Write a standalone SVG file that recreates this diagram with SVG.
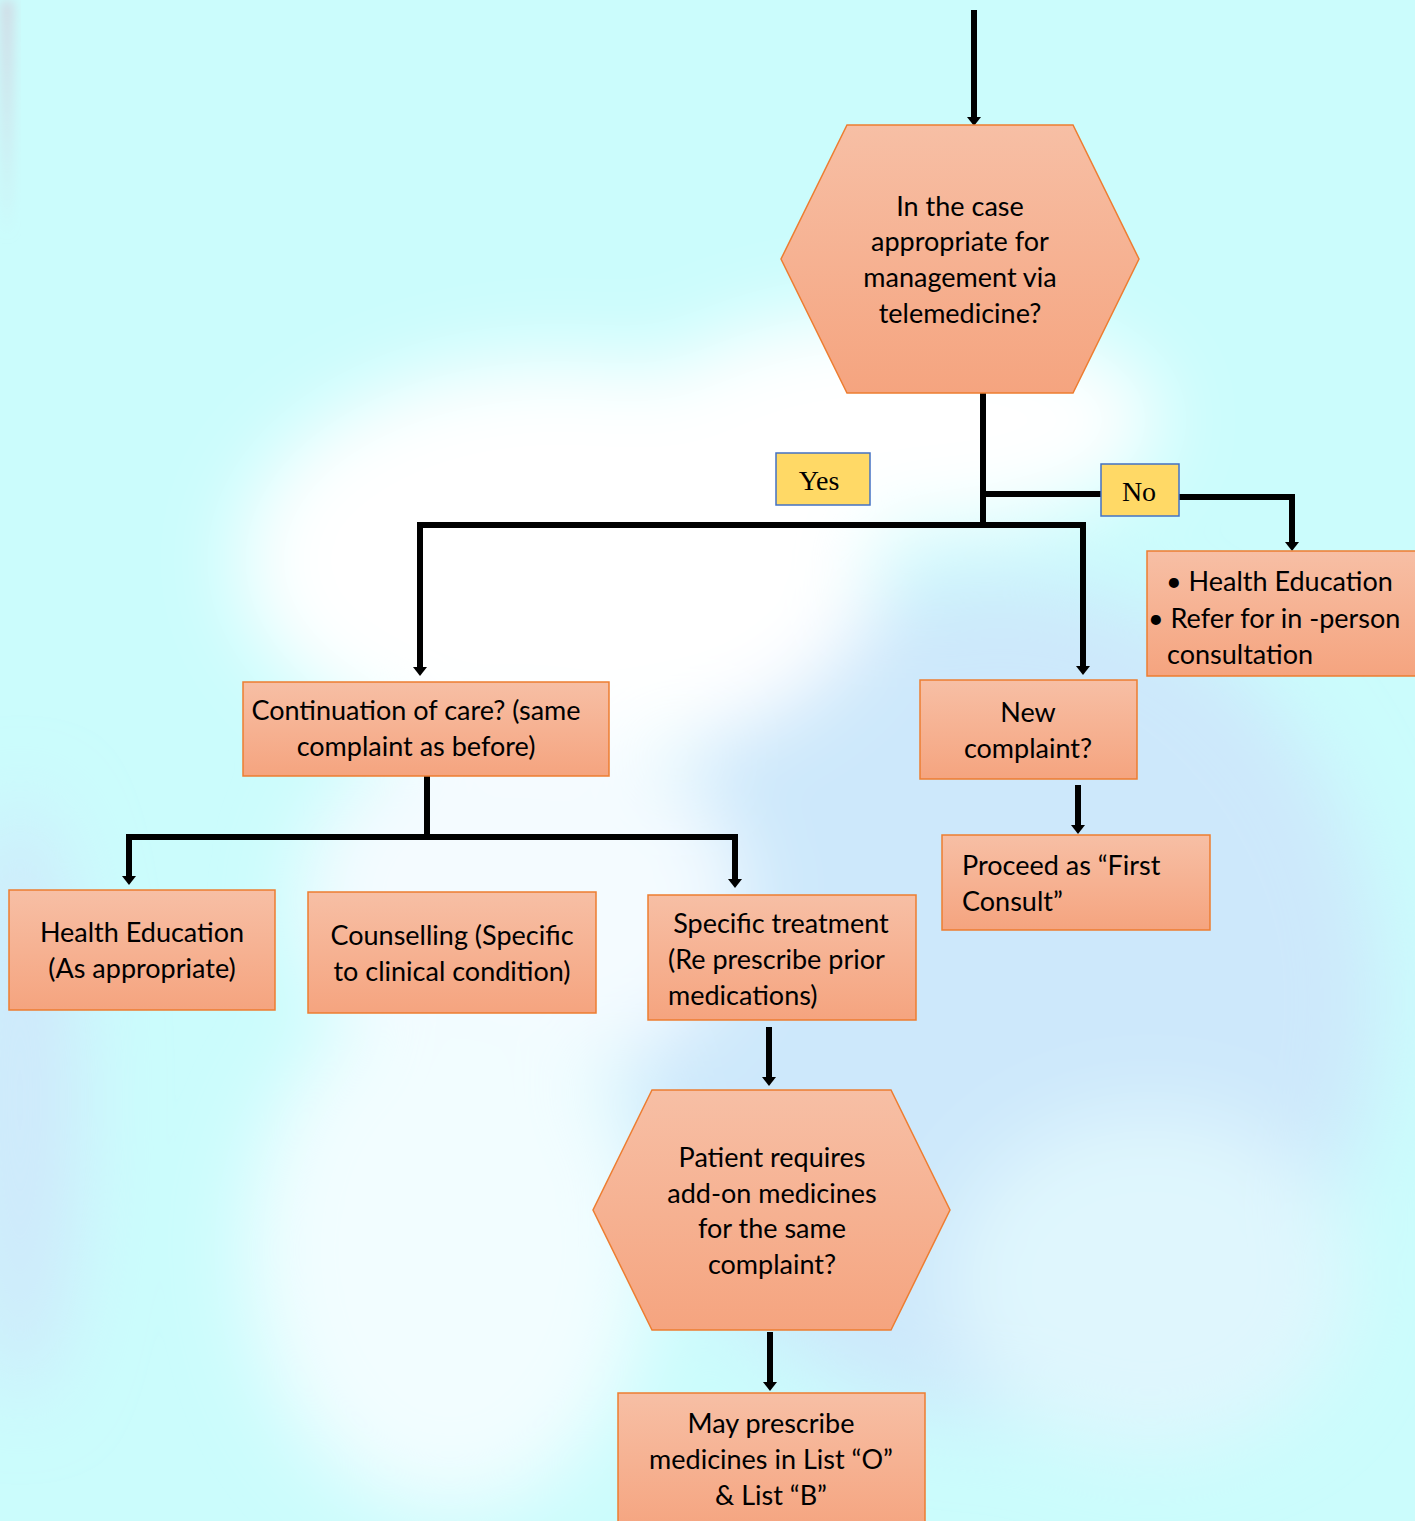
<svg xmlns="http://www.w3.org/2000/svg" width="1415" height="1521" viewBox="0 0 1415 1521">
<defs>
<linearGradient id="og" x1="0" y1="0" x2="0" y2="1">
<stop offset="0" stop-color="#f7bfa5"/>
<stop offset="1" stop-color="#f5a47f"/>
</linearGradient>
<linearGradient id="edge" x1="0" y1="0" x2="0" y2="1">
<stop offset="0" stop-color="#d2d6e2" stop-opacity="0.9"/>
<stop offset="1" stop-color="#d2d6e2" stop-opacity="0"/>
</linearGradient>
<filter id="blur" x="-50%" y="-50%" width="200%" height="200%"><feGaussianBlur stdDeviation="40"/></filter>
<filter id="blur2" x="-50%" y="-50%" width="200%" height="200%"><feGaussianBlur stdDeviation="6"/></filter>
<marker id="ah" markerUnits="userSpaceOnUse" markerWidth="10" markerHeight="16" refX="0" refY="8" orient="auto" viewBox="0 0 10 16">
<path d="M0,1 L9,8 L0,15 Z" fill="#000"/>
</marker>
<style>
.box{fill:url(#og);stroke:#ed7d31;stroke-width:1.5}
.t{font-family:Lato,"Open Sans","Liberation Sans",sans-serif;font-size:27px;fill:#000}
.c{text-anchor:middle}
.lbl{fill:#ffd966;stroke:#4472c4;stroke-width:1.5}
.lt{font-family:"Liberation Serif","DejaVu Serif",serif;font-size:28px;fill:#000;text-anchor:middle}
.ln{fill:none;stroke:#000;stroke-width:6}
.ar{fill:none;stroke:#000;stroke-width:6;marker-end:url(#ah)}
</style>
</defs>
<g id="background">
<rect width="1415" height="1521" fill="#cbfcfc"/>
<g filter="url(#blur)">
<ellipse cx="1000" cy="1000" rx="380" ry="420" fill="#cde8fb"/>
<ellipse cx="560" cy="560" rx="320" ry="200" fill="#ffffff"/>
<ellipse cx="900" cy="420" rx="260" ry="110" fill="#ffffff"/>
<ellipse cx="520" cy="900" rx="220" ry="180" fill="#f4fbff"/>
<ellipse cx="450" cy="1250" rx="200" ry="260" fill="#f2fdff"/>
<ellipse cx="1150" cy="1280" rx="200" ry="170" fill="#dff6fd"/>
<ellipse cx="20" cy="1100" rx="60" ry="300" fill="#cfe8fb"/>
</g>
<rect x="0" y="0" width="14" height="240" fill="url(#edge)" filter="url(#blur2)"/>
</g>
<g id="connectors">
<path class="ar" d="M974,10 V117"/>
<path class="ln" d="M983,393 V525"/>
<path class="ln" d="M983,494 H1101"/>
<path class="ar" d="M1179,497 H1292 V542"/>
<path class="ln" d="M417,525 H1086"/>
<path class="ar" d="M420,522 V667"/>
<path class="ar" d="M1083,522 V666"/>
<path class="ar" d="M1078,785 V825"/>
<path class="ln" d="M427,776 V839"/>
<path class="ln" d="M126,837 H738"/>
<path class="ar" d="M129,834 V876"/>
<path class="ar" d="M735,834 V879"/>
<path class="ar" d="M769,1027 V1077"/>
<path class="ar" d="M770,1332 V1382"/>
</g>
<g id="label-yes">
<rect class="lbl" x="776" y="453" width="94" height="52"/>
<text class="lt" x="819" y="490">Yes</text>
</g>
<g id="label-no">
<rect class="lbl" x="1101" y="464" width="78" height="52"/>
<text class="lt" x="1139" y="501">No</text>
</g>
<g id="node-telemedicine">
<polygon class="box" points="847,125 1073,125 1139,259 1073,393 847,393 781,259"/>
<text class="t c" x="960" y="216">In the case</text>
<text class="t c" x="960" y="251">appropriate for</text>
<text class="t c" x="960" y="287">management via</text>
<text class="t c" x="960" y="323">telemedicine?</text>
</g>
<g id="node-no-outcome">
<rect class="box" x="1147" y="551" width="270" height="125"/>
<text class="t" x="1166" y="591">• Health Education</text>
<text class="t" x="1148" y="628">• Refer for in -person</text>
<text class="t" x="1167" y="664">consultation</text>
</g>
<g id="node-continuation">
<rect class="box" x="243" y="682" width="366" height="94"/>
<text class="t c" x="416" y="720">Continuation of care? (same</text>
<text class="t c" x="416" y="756">complaint as before)</text>
</g>
<g id="node-new-complaint">
<rect class="box" x="920" y="680" width="217" height="99"/>
<text class="t c" x="1028" y="722">New</text>
<text class="t c" x="1028" y="758">complaint?</text>
</g>
<g id="node-first-consult">
<rect class="box" x="942" y="835" width="268" height="95"/>
<text class="t" x="962" y="875">Proceed as “First</text>
<text class="t" x="962" y="911">Consult”</text>
</g>
<g id="node-health-education">
<rect class="box" x="9" y="890" width="266" height="120"/>
<text class="t c" x="142" y="942">Health Education</text>
<text class="t c" x="142" y="978">(As appropriate)</text>
</g>
<g id="node-counselling">
<rect class="box" x="308" y="892" width="288" height="121"/>
<text class="t c" x="452" y="945">Counselling (Specific</text>
<text class="t c" x="452" y="981">to clinical condition)</text>
</g>
<g id="node-specific-treatment">
<rect class="box" x="648" y="895" width="268" height="125"/>
<text class="t c" x="781" y="933">Specific treatment</text>
<text class="t" x="668" y="969">(Re prescribe prior</text>
<text class="t" x="668" y="1005">medications)</text>
</g>
<g id="node-addon">
<polygon class="box" points="652,1090 891,1090 950,1210 891,1330 652,1330 593,1210"/>
<text class="t c" x="772" y="1167">Patient requires</text>
<text class="t c" x="772" y="1203">add-on medicines</text>
<text class="t c" x="772" y="1238">for the same</text>
<text class="t c" x="772" y="1274">complaint?</text>
</g>
<g id="node-prescribe">
<rect class="box" x="618" y="1393" width="307" height="140"/>
<text class="t c" x="771" y="1433">May prescribe</text>
<text class="t c" x="771" y="1469">medicines in List “O”</text>
<text class="t c" x="771" y="1505">&amp; List “B”</text>
</g>
</svg>
